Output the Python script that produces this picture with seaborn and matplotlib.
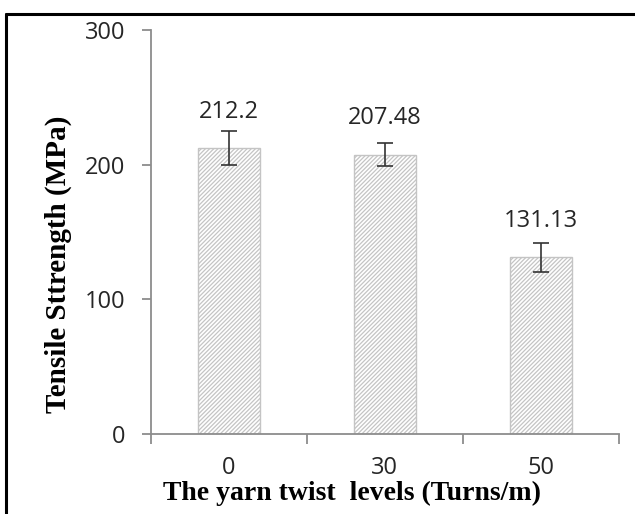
import matplotlib
matplotlib.use('Agg')
import matplotlib.pyplot as plt
import seaborn as sns
import pandas as pd
from matplotlib.lines import Line2D
from matplotlib.ticker import FixedLocator

levels = ['0', '30', '50']
strength = [212.2, 207.48, 131.13]
errors = [12.5, 8.7, 10.7]
value_labels = ['212.2', '207.48', '131.13']
yticks = [0, 100, 200, 300]

sns.set_theme(style='white')
plt.rcParams['font.family'] = ['Open Sans', 'DejaVu Sans']
plt.rcParams['hatch.color'] = '#4a4a4a'
plt.rcParams['hatch.linewidth'] = 0.9

fig = plt.figure(figsize=(6.35, 5.14), dpi=100)
ax = fig.add_axes([151 / 635, 1 - 434 / 514, (618.7 - 151) / 635, (434 - 30) / 514])

df = pd.DataFrame({'level': levels, 'strength': strength})
sns.barplot(data=df, x='level', y='strength', ax=ax, color='white', width=0.4,
            edgecolor='#c4c4c4', linewidth=1.0, hatch='////////', errorbar=None)
for p in ax.patches:
    p.set_facecolor('white')
    p.set_hatch('////////')

centers = [p.get_x() + p.get_width() / 2 for p in ax.patches]
ax.errorbar(centers, strength, yerr=errors, fmt='none', ecolor='#333333',
            elinewidth=1.2, capsize=5.5, capthick=1.2)

for xc, v, lab in zip(centers, strength, value_labels):
    ax.annotate(lab, (xc, v), xytext=(0, 22), textcoords='offset points',
                ha='center', va='baseline', fontsize=17, color='#262626')

ax.set_ylim(0, 300)
ax.set_xlim(-0.5, 2.5)
ax.set_yticks(yticks)
ax.set_yticklabels([str(t) for t in yticks])
ax.xaxis.set_minor_locator(FixedLocator([-0.5, 0.5, 1.5, 2.5]))

for side in ['top', 'right']:
    ax.spines[side].set_visible(False)
for side in ['left', 'bottom']:
    ax.spines[side].set_color('#8c8c8c')
    ax.spines[side].set_linewidth(1.3)

ax.tick_params(axis='y', which='major', length=6.5, width=1.3, color='#8c8c8c',
               pad=12, labelsize=17, labelcolor='#262626', left=True)
ax.tick_params(axis='x', which='major', length=0, pad=16, labelsize=17,
               labelcolor='#262626')
ax.tick_params(axis='x', which='minor', length=7, width=1.3, color='#8c8c8c',
               bottom=True)

serif = ['Liberation Serif', 'DejaVu Serif']
ax.set_xlabel('The yarn twist  levels (Turns/m)', family=serif, fontweight='bold',
              fontsize=20, color='black')
ax.xaxis.set_label_coords(0.43, -0.116)
ax.set_ylabel('Tensile Sttrength (MPa)', family=serif, fontweight='bold',
              fontsize=21, color='black', va='center')
ax.yaxis.set_label_coords((58 - 151) / 467.7, (434 - 264) / 404)

fig.add_artist(Line2D([5.5 / 635, 1.0], [1 - 13.5 / 514, 1 - 13.5 / 514],
                      transform=fig.transFigure, color='black', linewidth=2.2))
fig.add_artist(Line2D([5.5 / 635, 5.5 / 635], [0.0, 1 - 13.5 / 514],
                      transform=fig.transFigure, color='black', linewidth=2.2))

fig.savefig('out.png', dpi=100, facecolor='white')
